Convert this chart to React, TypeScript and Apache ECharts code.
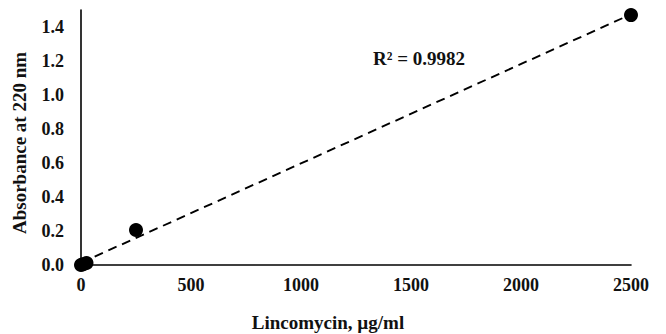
import React, { useEffect, useRef } from "react";
import * as echarts from "echarts";

const concentrations = [0, 10, 25, 250, 2500];
const absorbances = [0, 0.005, 0.012, 0.206, 1.47];
const rSquaredLabel = "R² = 0.9982";
const xAxisTitle = "Lincomycin, µg/ml";
const yAxisTitle = "Absorbance at 220 nm";

function linearFit(xs: number[], ys: number[]) {
  const n = xs.length;
  const mx = xs.reduce((a, b) => a + b, 0) / n;
  const my = ys.reduce((a, b) => a + b, 0) / n;
  let sxy = 0;
  let sxx = 0;
  for (let i = 0; i < n; i++) {
    sxy += (xs[i] - mx) * (ys[i] - my);
    sxx += (xs[i] - mx) * (xs[i] - mx);
  }
  const slope = sxy / sxx;
  return { slope, intercept: my - slope * mx };
}

const FONT = "'Liberation Serif', 'Times New Roman', serif";
const INK = "#111";

export default function App() {
  const ref = useRef<HTMLDivElement>(null);
  useEffect(() => {
    if (!ref.current) return;
    const chart = echarts.init(ref.current, undefined, { renderer: "svg" });
    const fit = linearFit(concentrations, absorbances);
    const xMin = concentrations[0];
    const xMax = concentrations[concentrations.length - 1];
    const trend = [
      [xMin, fit.intercept + fit.slope * xMin],
      [xMax, fit.intercept + fit.slope * xMax],
    ];
    chart.setOption({
      animation: false,
      grid: { left: 81, right: 35, top: 10, bottom: 69 },
      xAxis: {
        type: "value",
        min: 0,
        max: 2500,
        interval: 500,
        axisLine: { show: true, lineStyle: { color: "#000", width: 1.6 } },
        axisTick: { show: false },
        splitLine: { show: false },
        axisLabel: {
          margin: 11,
          color: INK,
          fontFamily: FONT,
          fontWeight: "bold",
          fontSize: 18,
          formatter: (v: number) => String(v),
        },
      },
      yAxis: {
        type: "value",
        min: 0,
        max: 1.5,
        interval: 0.2,
        axisLine: { show: true, onZero: false, lineStyle: { color: "#000", width: 1.6 } },
        axisTick: { show: false },
        splitLine: { show: false },
        axisLabel: {
          margin: 17,
          color: INK,
          fontFamily: FONT,
          fontWeight: "bold",
          fontSize: 18,
          formatter: (v: number) => (Math.abs(v - 1.5) < 1e-9 ? "" : v.toFixed(1)),
        },
      },
      graphic: [
        {
          type: "text",
          x: 328,
          y: 322,
          style: {
            text: xAxisTitle,
            fontFamily: FONT,
            fontWeight: "bold",
            fontSize: 19,
            fill: INK,
            textAlign: "center",
            textVerticalAlign: "middle",
          },
        },
        {
          type: "text",
          x: 19,
          y: 143,
          rotation: Math.PI / 2,
          style: {
            text: yAxisTitle,
            fontFamily: FONT,
            fontWeight: "bold",
            fontSize: 19,
            fill: INK,
            textAlign: "center",
            textVerticalAlign: "middle",
          },
        },
        {
          type: "text",
          x: 373,
          y: 58,
          style: {
            text: rSquaredLabel,
            fontFamily: FONT,
            fontWeight: "bold",
            fontSize: 19,
            fill: INK,
            textVerticalAlign: "middle",
          },
        },
      ],
      series: [
        {
          type: "line",
          data: trend,
          symbol: "none",
          lineStyle: { color: "#000", width: 1.9, type: [9, 6] },
          z: 1,
        },
        {
          type: "scatter",
          data: concentrations.map((x, i) => [x, absorbances[i]]),
          symbol: "circle",
          symbolSize: 14,
          itemStyle: { color: "#000", opacity: 1 },
          z: 2,
        },
      ],
    });
    return () => chart.dispose();
  }, []);
  return <div ref={ref} style={{ width: 666, height: 334, marginLeft: -8, marginTop: -8 }} />;
}
